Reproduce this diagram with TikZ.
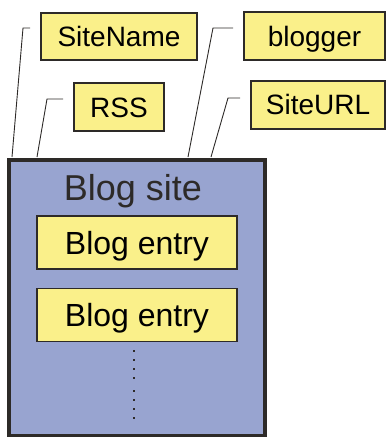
\documentclass[tikz,border=0pt]{standalone}
\usepackage{fontspec}
\setmainfont{Liberation Sans}
\definecolor{siteblue}{RGB}{152,164,208}
\definecolor{boxyellow}{RGB}{250,240,138}
\definecolor{edge}{RGB}{45,42,40}
\begin{document}
\begin{tikzpicture}[x=1pt,y=-1pt,
  label box/.style={draw=edge,line width=1.2pt,fill=boxyellow,inner sep=0pt,
    font=\fontsize{28}{30}\selectfont,text height=20pt,text depth=0pt},
  entry box/.style={draw=edge,line width=1.2pt,fill=boxyellow,inner sep=0pt,
    minimum width=200pt,minimum height=53pt,
    font=\fontsize{32}{34}\selectfont,text height=23pt,text depth=-2pt},
  leader/.style={draw=edge,line width=0.9pt},
  dotmark/.style={fill=edge,minimum size=2.2pt,inner sep=0pt,shape=rectangle}]
\useasboundingbox (0,0) rectangle (386,437);
\clip (0,0) rectangle (386,437);
% blog site container
\node[draw=edge,line width=4pt,fill=siteblue,minimum width=256pt,minimum height=276.5pt,inner sep=0pt]
  (site) at (137,297.75) {};
\node[anchor=base,font=\fontsize{36}{38}\selectfont,text=edge] (sitetitle) at (133,200) {Blog site};
% entries
\node[entry box] (entry1) at (137,242.5) {Blog entry};
\node[entry box] (entry2) at (137,315) {Blog entry};
% dots
\foreach \i/\yy in {1/351.3,2/360.3,3/369.3,4/378.3,5/391.3,6/400.3,7/409.3,8/418.3}
  \node[dotmark] (dot\i) at (134.3,\yy) {};
% labels
\node[label box,minimum width=156pt,minimum height=47pt] (sitename) at (119,36.5) {SiteName};
\node[label box,minimum width=90pt,minimum height=48pt] (rss) at (119,107) {RSS};
\node[label box,minimum width=141pt,minimum height=48pt,text depth=-1pt] (blogger) at (314.5,36) {blogger};
\node[label box,minimum width=134pt,minimum height=48pt,text depth=1pt] (siteurl) at (318,105) {SiteURL};
% leader coordinates
\coordinate (l1a) at (30,28);   \coordinate (l1b) at (23,28);   \coordinate (l1c) at (12,157);
\coordinate (l2a) at (63,99);   \coordinate (l2b) at (47,99);   \coordinate (l2c) at (37,157);
\coordinate (l3a) at (233,28);  \coordinate (l3b) at (213,28);  \coordinate (l3c) at (188,157);
\coordinate (l4a) at (240,98);  \coordinate (l4b) at (228,98);  \coordinate (l4c) at (211,157);
\draw[leader] (l1a) -- (l1b) -- (l1c);
\draw[leader] (l2a) -- (l2b) -- (l2c);
\draw[leader] (l3a) -- (l3b) -- (l3c);
\draw[leader] (l4a) -- (l4b) -- (l4c);
\end{tikzpicture}
\end{document}
